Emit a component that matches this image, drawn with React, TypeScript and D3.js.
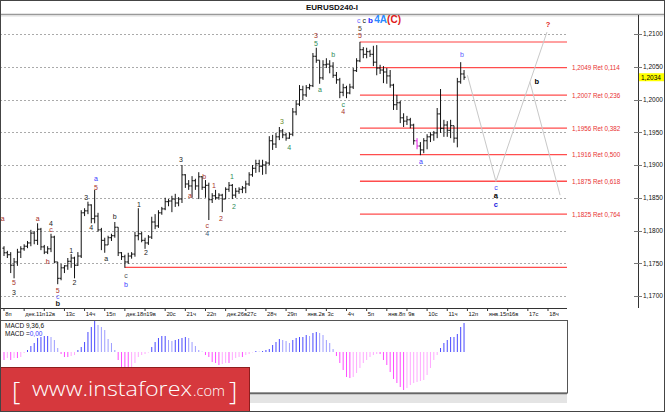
import React from "react";
import * as d3 from "d3";

const W = 665;
const H = 412;

const dayLabels = ["8п","дек.11п","12в","13с","14ч","15п","дек.18п","19в","20с","21ч","22п","дек.26в","27с","28ч","29п","янв.2в","3с","4ч","5п","янв.8п","9в","10с","11ч","12п","янв.15п","16в","17с","18ч"];
const barsPerDay = 6;

const opens = [
  1.1773,1.1766,1.1763,1.1747,1.1752,1.1767, 1.1772,1.1776,1.1781,1.1796,1.1785,1.1802,
  1.1775,1.1767,1.1772,1.1790,1.1752,1.1727, 1.1743,1.1746,1.1753,1.1758,1.1747,1.1761,
  1.1827,1.1830,1.1839,1.1818,1.1822,1.1801, 1.1785,1.1778,1.1789,1.1792,1.1805,1.1766,
  1.1760,1.1752,1.1761,1.1764,1.1792,1.1795, 1.1785,1.1781,1.1790,1.1813,1.1807,1.1827,
  1.1833,1.1844,1.1845,1.1848,1.1842,1.1848, 1.1885,1.1871,1.1868,1.1876,1.1868,1.1882,
  1.1866,1.1869,1.1847,1.1853,1.1850,1.1854, 1.1848,1.1863,1.1869,1.1854,1.1860,1.1863,
  1.1865,1.1871,1.1885,1.1895,1.1902,1.1898, 1.1900,1.1903,1.1937,1.1932,1.1943,1.1952,
  1.1946,1.1941,1.1947,1.1981,1.1993,1.2015, 1.2007,1.2018,1.2021,1.2066,1.2060,1.2033,
  1.2053,1.2054,1.2051,1.2037,1.2030,1.2011, 1.2018,1.2010,1.2019,1.2044,1.2059,1.2076,
  1.2069,1.2073,1.2069,1.2057,1.2048,1.2045, 1.2042,1.2036,1.2022,1.1992,1.1995,1.1972,
  1.1967,1.1969,1.1961,1.1937,1.1929,1.1923, 1.1937,1.1943,1.1946,1.1949,1.1978,1.1956,
  1.1961,1.1953,1.1960,1.1941,1.2027,1.2039,
];
const highs = [
  1.1776,1.1769,1.1767,1.1758,1.1772,1.1776, 1.1779,1.1784,1.1801,1.1799,1.1811,1.1804,
  1.1778,1.1776,1.1795,1.1792,1.1752,1.1749, 1.1747,1.1758,1.1764,1.1760,1.1767,1.1831,
  1.1834,1.1844,1.1840,1.1862,1.1827,1.1804, 1.1789,1.1792,1.1795,1.1813,1.1805,1.1767,
  1.1763,1.1766,1.1767,1.1798,1.1834,1.1798, 1.1789,1.1793,1.1821,1.1825,1.1831,1.1836,
  1.1850,1.1848,1.1853,1.1856,1.1851,1.1900, 1.1886,1.1877,1.1883,1.1879,1.1889,1.1883,
  1.1877,1.1873,1.1857,1.1862,1.1857,1.1856, 1.1866,1.1874,1.1871,1.1865,1.1866,1.1868,
  1.1876,1.1889,1.1900,1.1908,1.1908,1.1908, 1.1906,1.1944,1.1946,1.1949,1.1958,1.1955,
  1.1949,1.1950,1.1987,1.1999,1.2022,1.2021, 1.2022,1.2024,1.2071,1.2079,1.2060,1.2060,
  1.2063,1.2060,1.2057,1.2042,1.2033,1.2024, 1.2021,1.2024,1.2048,1.2063,1.2088,1.2080,
  1.2079,1.2076,1.2082,1.2083,1.2053,1.2051, 1.2048,1.2045,1.2024,1.2007,1.1998,1.1979,
  1.1975,1.1972,1.1963,1.1941,1.1935,1.1941, 1.1947,1.1950,1.1952,1.1987,1.2016,1.1969,
  1.1967,1.1969,1.1960,1.2033,1.2057,1.2045,
];
const lows = [
  1.1761,1.1758,1.1735,1.1727,1.1746,1.1758, 1.1769,1.1773,1.1776,1.1779,1.1778,1.1770,
  1.1764,1.1764,1.1767,1.1750,1.1718,1.1724, 1.1735,1.1740,1.1743,1.1727,1.1746,1.1758,
  1.1822,1.1825,1.1811,1.1811,1.1798,1.1770, 1.1766,1.1778,1.1784,1.1789,1.1761,1.1755,
  1.1743,1.1749,1.1757,1.1760,1.1785,1.1782, 1.1772,1.1778,1.1787,1.1802,1.1804,1.1824,
  1.1831,1.1837,1.1828,1.1836,1.1837,1.1842, 1.1865,1.1862,1.1850,1.1862,1.1848,1.1862,
  1.1850,1.1816,1.1842,1.1847,1.1847,1.1828, 1.1848,1.1859,1.1848,1.1850,1.1856,1.1857,
  1.1857,1.1868,1.1882,1.1888,1.1889,1.1885, 1.1886,1.1900,1.1923,1.1926,1.1938,1.1941,
  1.1937,1.1940,1.1944,1.1976,1.1990,1.1999, 1.2004,1.2015,1.2019,1.2056,1.2024,1.2030,
  1.2048,1.2040,1.2033,1.2024,1.2002,1.2005, 1.2002,1.2008,1.2016,1.2042,1.2057,1.2063,
  1.2063,1.2065,1.2051,1.2037,1.2039,1.2025, 1.2024,1.2018,1.1984,1.1984,1.1964,1.1958,
  1.1961,1.1956,1.1931,1.1924,1.1915,1.1918, 1.1924,1.1935,1.1937,1.1941,1.1949,1.1943,
  1.1943,1.1941,1.1934,1.1927,1.2024,1.2030,
];
const closes = [
  1.1766,1.1763,1.1747,1.1752,1.1767,1.1772, 1.1776,1.1781,1.1796,1.1785,1.1802,1.1775,
  1.1767,1.1772,1.1790,1.1752,1.1727,1.1743, 1.1746,1.1753,1.1758,1.1747,1.1761,1.1827,
  1.1830,1.1839,1.1818,1.1822,1.1801,1.1785, 1.1778,1.1789,1.1792,1.1805,1.1766,1.1760,
  1.1752,1.1761,1.1764,1.1792,1.1795,1.1785, 1.1781,1.1790,1.1813,1.1807,1.1827,1.1833,
  1.1844,1.1845,1.1848,1.1842,1.1848,1.1885, 1.1871,1.1868,1.1876,1.1868,1.1882,1.1866,
  1.1869,1.1847,1.1853,1.1850,1.1854,1.1848, 1.1863,1.1869,1.1854,1.1860,1.1863,1.1865,
  1.1871,1.1885,1.1895,1.1902,1.1898,1.1900, 1.1903,1.1937,1.1932,1.1943,1.1952,1.1946,
  1.1941,1.1947,1.1981,1.1993,1.2015,1.2007, 1.2018,1.2021,1.2066,1.2060,1.2033,1.2053,
  1.2054,1.2051,1.2037,1.2030,1.2011,1.2018, 1.2010,1.2019,1.2044,1.2059,1.2076,1.2069,
  1.2073,1.2069,1.2057,1.2048,1.2045,1.2042, 1.2036,1.2022,1.1992,1.1995,1.1972,1.1967,
  1.1969,1.1961,1.1937,1.1929,1.1923,1.1937, 1.1943,1.1946,1.1949,1.1978,1.1956,1.1961,
  1.1953,1.1960,1.1941,1.2027,1.2039,1.2034,
];
const markedBar = 123;

// MACD histogram (points)
const macdHist = [
  -40,-30,-40,-30,-30,-25, -5,10,30,45,70,75,
  80,80,75,60,20,-10, -25,-25,-20,-15,10,25,
  50,100,125,155,135,125, 110,65,45,10,-40,-75,
  -80,-90,-75,-55,-25,-15, -10,-3,25,50,70,80,
  80,60,55,60,65,70, 75,70,50,30,10,2,
  -15,-25,-50,-55,-65,-60, -55,-55,-40,-30,-25,-25,
  -15,-10,-2,5,2,5, 10,15,35,50,65,60,
  55,45,60,70,75,75, 85,80,95,100,95,85,
  60,45,15,-20,-55,-90, -125,-130,-125,-105,-80,-55,
  -40,-25,-15,-10,-10,-40, -65,-100,-135,-155,-175,-190,
  -180,-165,-155,-150,-145,-140, -115,-80,-40,-15,20,45,
  60,75,75,90,125,145,
];

const priceTicks = [1.17, 1.175, 1.18, 1.185, 1.19, 1.195, 1.2, 1.205, 1.21];
const currentPrice = 1.2034;
const fibHigh = 1.20878;
const fibLow = 1.17438;
const fibRatios = [0.114, 0.236, 0.382, 0.5, 0.618, 0.764];
const fibStartBar = 106;
const supportStartBar = 36;

const projMainIdx = [138, 146.5, 161.7];
const projMainPrice = [1.2037, 1.1875, 1.2103];
const projBranchIdx = [156.6, 165.6];
const projBranchPrice = [1.2027, 1.1854];

const DR = "#a8322a";
const GR = "#2e8b57";
const BL = "#3a3aff";
const BK = "#222";
// [barIndex, price, text, color, bold]
const waveLabels: [number, number, string, string, boolean][] = [
  [-0.4, 1.1818, "a", DR, false],
  [3, 1.1720, "5", DR, false], [3, 1.1705, "3", BK, false],
  [10, 1.1819, "a", DR, false],
  [14, 1.1811, "4", BK, false], [14, 1.1801, "c", DR, false],
  [13, 1.1753, "b", DR, false],
  [16, 1.1709, "5", DR, false], [16, 1.1700, "c", "#6a6aff", false], [16, 1.1689, "b", BK, true],
  [20, 1.1769, "1", BK, false], [21, 1.1720, "2", BK, false],
  [24.5, 1.1851, "3", BK, false], [26, 1.1804, "4", BK, false],
  [27.4, 1.1879, "a", BL, false], [27.4, 1.1866, "5", DR, false],
  [30.4, 1.1758, "a", BK, false], [33, 1.1821, "b", BK, false],
  [36.3, 1.1731, "c", "#555", false], [36.3, 1.1718, "b", BL, false],
  [40.2, 1.1839, "1", BK, false], [42.3, 1.1766, "2", BK, false],
  [52.7, 1.1909, "3", BK, false],
  [55.4, 1.1854, "a", DR, false], [59.6, 1.1883, "b", DR, false],
  [62.5, 1.1869, "1", DR, false],
  [60.5, 1.1808, "c", DR, false], [60.5, 1.1796, "4", "#3a5a7a", false],
  [64.6, 1.1818, "2", DR, false],
  [67.9, 1.1883, "1", GR, false], [68.5, 1.1837, "2", GR, false],
  [82.8, 1.1966, "3", "#6a8a2a", false], [84.9, 1.1927, "4", GR, false],
  [92.9, 1.2097, "3", DR, false], [92.9, 1.2086, "5", GR, false],
  [94.1, 1.2015, "a", GR, false], [98, 1.2068, "b", GR, false],
  [101, 1.1993, "c", GR, false], [101, 1.1981, "4", DR, false],
  [106, 1.2109, "5", "#4a3a2a", false], [106, 1.2097, "5", DR, false],
  [124.2, 1.1905, "a", BL, false],
  [136.4, 1.2068, "b", "#5a5aff", false],
  [146.5, 1.1865, "c", BL, false], [146.5, 1.1853, "a", "#000", true], [146.5, 1.1840, "c", "#2020e0", true],
  [158.7, 1.2028, "b", "#000", true],
  [162, 1.2114, "?", "#e02020", true],
];
const topLabelIdx = 105.1;
const topLabelPrice = 1.2121;

export default function App() {
  const x = d3.scaleLinear().domain([0, 168]).range([4, 4 + 168 * 3.358]);
  const y = d3.scaleLinear().domain([1.17, 1.21]).range([296, 34]);
  const ym = d3.scaleLinear().domain([-205, 160]).range([393, 320]);
  const fmt = (v: number) => d3.format(".4f")(v).replace(".", ",");
  const plotRight = 567;
  const axisX = 638;
  const font = "'Liberation Sans', Arial, sans-serif";

  const barPath = (i: number) => {
    const cx = x(i);
    return `M${cx},${y(highs[i])}V${y(lows[i])}M${cx - 1.6},${y(opens[i])}H${cx}M${cx},${y(closes[i])}H${cx + 1.6}`;
  };

  const line = d3.line<[number, number]>().x((d) => x(d[0])).y((d) => y(d[1]));
  const mainProj = line(projMainIdx.map((v, k) => [v, projMainPrice[k]] as [number, number]));
  const branchProj = line(projBranchIdx.map((v, k) => [v, projBranchPrice[k]] as [number, number]));

  const fibColor = "#ff4d4d";

  return (
    <div style={{ position: "absolute", left: 0, top: 0, width: W, height: H, background: "#fff" }}>
      <svg width={W} height={H} style={{ display: "block", fontFamily: font }}>
        <defs>
          <clipPath id="plot">
            <rect x={0} y={15} width={plotRight} height={293} />
          </clipPath>
        </defs>
        <rect x={0} y={0} width={W} height={H} fill="#fff" />
        {/* title */}
        <text x={332} y={10} textAnchor="middle" fontSize={8} fontWeight="bold" fill="#111">EURUSD240-I</text>
        <line x1={0} x2={W} y1={14.5} y2={14.5} stroke="#999" strokeWidth={1.5} />
        <line x1={0} x2={W} y1={16} y2={16} stroke="#ddd" strokeWidth={1} />

        {/* grid */}
        {priceTicks.map((p) => (
          <line key={"g" + p} x1={0} x2={plotRight} y1={Math.round(y(p)) + 0.5} y2={Math.round(y(p)) + 0.5} stroke="#aaa" strokeDasharray="2,2" strokeWidth={1} />
        ))}

        <g clipPath="url(#plot)">
          {/* support + fib lines */}
          <line x1={x(supportStartBar)} x2={plotRight} y1={y(fibLow)} y2={y(fibLow)} stroke={fibColor} strokeWidth={1.3} />
          <line x1={x(fibStartBar)} x2={plotRight} y1={y(fibHigh)} y2={y(fibHigh)} stroke={fibColor} strokeWidth={1.3} opacity={0.7} />
          {fibRatios.map((r) => {
            const p = fibHigh - r * (fibHigh - fibLow);
            return <line key={"f" + r} x1={x(fibStartBar)} x2={plotRight} y1={y(p)} y2={y(p)} stroke={fibColor} strokeWidth={1.3} />;
          })}
          {/* projection */}
          <path d={mainProj || ""} fill="none" stroke="#c8c8c8" strokeWidth={1} />
          <path d={branchProj || ""} fill="none" stroke="#c8c8c8" strokeWidth={1} />
          {/* bars */}
          {opens.map((_, i) => (
            <path key={"b" + i} d={barPath(i)} stroke={i === markedBar ? "#e020e0" : "#111"} strokeWidth={1} fill="none" />
          ))}
        </g>

        {/* fib labels */}
        {fibRatios.map((r) => {
          const p = fibHigh - r * (fibHigh - fibLow);
          return (
            <text key={"fl" + r} x={572} y={y(p) + 2.5} fontSize={6.3} fill="#e83030">
              {fmt(p) + " Ret " + r.toFixed(3).replace(".", ",")}
            </text>
          );
        })}

        {/* wave labels */}
        {waveLabels.map((l, k) => (
          <text key={"w" + k} x={x(l[0])} y={y(l[1])} textAnchor="middle" dominantBaseline="central" fontSize={l[4] ? 7.5 : 7} fontWeight={l[4] ? "bold" : "normal"} fill={l[3]}>
            {l[2]}
          </text>
        ))}
        <text x={x(topLabelIdx)} y={y(topLabelPrice) + 3} fontSize={7}>
          <tspan fill="#6a6aff">c</tspan>
          <tspan fill="#111" dx={2}>c</tspan>
          <tspan fill="#2a2aff" fontWeight="bold" fontSize={8} dx={2}>b</tspan>
          <tspan fill="#2a8aff" fontWeight="bold" fontSize={10} dx={1.5}>4A</tspan>
          <tspan fill="#e01818" fontWeight="bold" fontSize={10}>(C)</tspan>
        </text>

        {/* price axis */}
        <line x1={axisX + 0.5} x2={axisX + 0.5} y1={15} y2={308} stroke="#333" strokeWidth={1} />
        {priceTicks.map((p) => (
          <g key={"pt" + p}>
            <line x1={axisX - 4} x2={axisX + 4} y1={Math.round(y(p)) + 0.5} y2={Math.round(y(p)) + 0.5} stroke="#777" />
            <text x={axisX + 5} y={y(p) + 2.3} fontSize={6.5} fill="#111">{fmt(p)}</text>
          </g>
        ))}
        <rect x={axisX + 1} y={y(currentPrice) - 4} width={25} height={8} fill="#ffff00" />
        <text x={axisX + 3} y={y(currentPrice) + 2.5} fontSize={6.5} fill="#000">{fmt(currentPrice)}</text>

        {/* time axis */}
        <line x1={0} x2={plotRight} y1={308.5} y2={308.5} stroke="#333" strokeWidth={1} />
        {dayLabels.map((d, k) => {
          const tx = x(k * barsPerDay);
          return (
            <g key={"t" + k}>
              <line x1={tx} x2={tx} y1={308} y2={311} stroke="#333" />
              <text x={tx + 1.2} y={316} fontSize={5.8} fill="#111">{d}</text>
            </g>
          );
        })}

        {/* MACD panel */}
        <rect x={0.5} y={320.5} width={plotRight} height={72.5} fill="#fff" stroke="#555" strokeWidth={1} />
        {macdHist.map((v, i) => {
          const prev = i > 0 ? macdHist[i - 1] : v;
          let color;
          if (v >= 0) color = v >= prev ? "#4848ff" : "#9c9cff";
          else color = v <= prev ? "#ff4cff" : "#ffa8ff";
          return <line key={"m" + i} x1={x(i)} x2={x(i)} y1={ym(0)} y2={ym(v)} stroke={color} strokeWidth={1} />;
        })}
        <text x={5} y={328} fontSize={6.5} fill="#111">MACD 9,36,6</text>
        <text x={5} y={336} fontSize={6.5} fill="#111">MACD =<tspan fill="#3a3aff">0,00</tspan></text>

        {/* bottom gray strip */}
        <rect x={0} y={393} width={plotRight} height={10} fill="#e4e4e4" />
        <line x1={0} x2={plotRight} y1={393.5} y2={393.5} stroke="#666" strokeWidth={1.5} />

        {/* banner */}
        <rect x={0.5} y={367.5} width={249} height={44} fill="#d6383d" stroke="#8e1e1e" strokeWidth={1} />
        <text x={12} y={400} fontSize={26} fill="#fff" fontWeight={300} fontFamily="'Open Sans', sans-serif">[</text>
        <text x={32} y={396} fontSize={20} fill="#fff" fontWeight={300} fontFamily="'Open Sans', sans-serif" textLength={160} lengthAdjust="spacingAndGlyphs">www.instaforex</text>
        <text x={193} y={396} fontSize={14} fill="#fff" fontWeight={300} fontFamily="'Open Sans', sans-serif" textLength={32} lengthAdjust="spacingAndGlyphs">.com</text>
        <text x={229} y={400} fontSize={26} fill="#fff" fontWeight={300} fontFamily="'Open Sans', sans-serif">]</text>

        {/* frame */}
        <rect x={0.5} y={0.5} width={W - 1} height={H - 1} fill="none" stroke="#444" strokeWidth={1} />
      </svg>
    </div>
  );
}
